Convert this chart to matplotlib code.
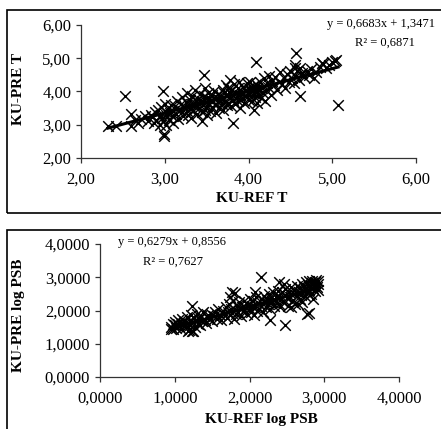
import matplotlib
matplotlib.use("Agg")
import matplotlib.pyplot as plt
from matplotlib.patches import Rectangle
from matplotlib.ticker import FuncFormatter

plt.rcParams['font.family'] = ['Liberation Serif', 'DejaVu Serif']

# --- top panel: KU-REF T vs KU-PRE T ---
ref_t = [2.72, 2.76, 2.80, 2.83, 2.85, 2.87, 2.88, 2.90, 2.92, 2.94,
         2.95, 2.96, 2.97, 2.98, 3.00, 3.00, 3.01, 3.02, 3.04, 3.05, 3.06, 3.08, 3.09, 3.10, 3.10,
         3.12, 3.13, 3.15, 3.16, 3.18, 3.19, 3.20, 3.21, 3.22, 3.24, 3.25, 3.26, 3.27, 3.28, 3.29, 3.30, 3.30, 3.31,
         3.32, 3.33, 3.34, 3.35, 3.36, 3.37, 3.38, 3.39, 3.40, 3.41, 3.42, 3.43, 3.44, 3.45, 3.46, 3.47, 3.48, 3.48,
         3.49, 3.50, 3.50, 3.51,
         3.52, 3.53, 3.54, 3.55, 3.56, 3.57, 3.58, 3.59, 3.60, 3.61, 3.62, 3.63, 3.64, 3.65, 3.66, 3.67, 3.68, 3.69,
         3.70, 3.70,
         3.71, 3.72, 3.73, 3.74, 3.75, 3.75, 3.76, 3.77, 3.78, 3.78, 3.79, 3.80, 3.81, 3.82, 3.83, 3.84, 3.85, 3.86,
         3.87, 3.88, 3.89, 3.90, 3.90, 3.91, 3.92,
         3.93, 3.94, 3.95, 3.96, 3.97, 3.98, 3.99, 4.00, 4.00, 4.01, 4.02, 4.03, 4.04, 4.05, 4.06, 4.07, 4.08, 4.09,
         4.10, 4.10, 4.11, 4.12,
         4.13, 4.14, 4.15, 4.16, 4.17, 4.18, 4.19, 4.20, 4.21, 4.22, 4.24, 4.25, 4.27, 4.28,
         4.30, 4.32, 4.34, 4.36, 4.38, 4.40, 4.42, 4.44, 4.46, 4.48, 4.50, 4.52, 4.54, 4.55,
         4.57, 4.58, 4.60, 4.62, 4.64, 4.66, 4.70, 4.72, 4.75, 4.78, 4.80, 4.85, 4.88, 4.92, 4.96, 5.00, 5.04,
         2.32, 2.42, 2.53, 2.60, 2.60, 2.98, 2.99, 2.99, 3.45, 3.47, 3.82, 4.07, 4.09, 4.57, 4.61, 5.07, 5.03,
         4.56, 4.89, 2.65, 2.68]
pre_t = [3.18, 3.25, 3.10, 3.30, 3.22, 3.05, 3.38, 3.15, 3.45, 2.98,
         3.30, 3.52, 3.20, 3.10, 3.40, 3.62, 3.00, 3.28, 3.48, 3.15, 3.35, 3.58, 3.25, 3.42, 3.05,
         3.55, 3.32, 3.70, 3.18, 3.45, 3.62, 3.38, 3.82, 3.25, 3.52, 3.68, 3.40, 3.95, 3.30, 3.58, 3.75, 3.48, 3.20,
         3.62, 3.85, 3.40, 3.55, 4.05, 3.70, 3.32, 3.60, 3.78, 3.50, 3.92, 3.65, 3.38, 3.72, 3.58, 3.85, 3.45, 4.10,
         3.68, 3.28, 3.80, 3.55,
         3.95, 3.62, 3.40, 3.75, 3.88, 3.52, 3.70, 4.00, 3.60, 3.35, 3.80, 3.68, 3.92, 3.50, 3.75, 3.85, 3.62, 4.05,
         3.45, 3.78,
         3.95, 3.70, 4.20, 3.58, 3.88, 4.10, 3.65, 3.98, 3.80, 4.35, 3.55, 4.05, 3.75, 3.90, 4.22, 3.62, 3.95, 3.82,
         4.12, 3.70, 4.30, 3.88, 3.50, 4.02, 3.78,
         4.15, 3.92, 3.65, 4.05, 3.85, 4.25, 3.98, 3.75, 4.12, 3.90, 4.30, 4.02, 3.70, 4.18, 3.95, 4.08, 3.82, 4.22,
         4.00, 3.65, 4.15, 3.88,
         4.05, 4.28, 3.80, 4.12, 3.95, 4.40, 4.18, 3.72, 4.05, 4.25, 4.48, 4.10, 3.90, 4.32,
         4.20, 4.45, 4.05, 4.30, 4.58, 4.22, 4.40, 4.12, 4.52, 4.30, 4.62, 4.40, 4.25, 4.72,
         4.48, 4.62, 4.35, 4.70, 4.55, 4.45, 4.62, 4.50, 4.68, 4.40, 4.60, 4.75, 4.85, 4.70, 4.80, 4.90, 4.95,
         2.95, 2.95, 3.87, 3.33, 2.95, 4.02, 2.65, 2.73, 3.12, 4.49, 3.05, 3.45, 4.89, 5.15, 3.87, 3.58, 4.92,
         4.79, 4.84, 3.15, 3.05]
fit_t = (0.6683, 1.3471)

# --- bottom panel: KU-REF log PSB vs KU-PRE log PSB ---
ref_psb = [0.95, 0.97, 0.98, 1.00, 1.01, 1.02, 1.04, 1.05, 1.06, 1.08, 1.09, 1.10, 1.12, 1.13, 1.15, 1.16, 1.18, 1.19,
           1.20, 1.21, 1.22, 1.23, 1.24, 1.26, 1.27, 1.28, 1.30, 1.31, 1.32, 1.34, 1.35, 1.37, 1.38, 1.40, 1.42,
           1.44, 1.46, 1.48,
           1.50, 1.52, 1.54, 1.56, 1.58, 1.60, 1.62, 1.64, 1.66, 1.68, 1.70, 1.71, 1.72, 1.74, 1.75, 1.77, 1.78, 1.79,
           1.80, 1.82, 1.83, 1.85, 1.86, 1.88, 1.89, 1.90, 1.92, 1.93, 1.95, 1.96, 1.98, 2.00, 2.01, 2.02, 2.04,
           2.05, 2.06, 2.08, 2.09, 2.10,
           2.12, 2.13, 2.15, 2.16, 2.18, 2.19, 2.20, 2.22, 2.23, 2.25, 2.26, 2.28, 2.29, 2.30, 2.32, 2.33, 2.35,
           2.36, 2.38, 2.39, 2.40, 2.41,
           2.42, 2.44, 2.45, 2.47, 2.48, 2.50, 2.51, 2.53, 2.54, 2.56, 2.57, 2.59, 2.60, 2.61, 2.63, 2.64, 2.66,
           2.67, 2.68, 2.69, 2.70, 2.70,
           2.72, 2.73, 2.74, 2.75, 2.76, 2.77, 2.78, 2.79, 2.80, 2.81, 2.82, 2.83, 2.84, 2.85, 2.86, 2.87, 2.88,
           2.89, 2.90, 2.91, 2.92, 2.92,
           2.15, 2.47, 2.28, 2.79, 2.77, 1.23, 1.74, 1.81, 1.76, 2.08, 2.40, 2.46, 2.85, 1.18, 1.25, 0.95, 2.55, 2.65]
pre_psb = [1.50, 1.58, 1.45, 1.55, 1.65, 1.48, 1.60, 1.70, 1.52, 1.62, 1.45, 1.75, 1.58, 1.68, 1.50, 1.80, 1.62, 1.40,
           1.72, 1.55, 1.85, 1.38, 1.65, 1.78, 1.50, 1.70, 1.90, 1.60, 1.75, 1.55, 1.82, 1.68, 1.95, 1.72, 1.62,
           1.85, 1.75, 1.90,
           1.68, 1.82, 1.95, 1.75, 2.05, 1.85, 1.72, 1.98, 1.88, 2.10, 1.78, 1.95, 2.20, 1.85, 2.05, 1.92, 2.30, 1.75,
           2.02, 1.88, 2.15, 1.95, 2.25, 2.05, 1.82, 2.12, 1.98, 2.30, 2.08, 1.90, 2.20, 2.05, 2.35, 1.95, 2.15,
           2.28, 1.85, 2.10, 2.40, 2.00,
           2.22, 2.05, 2.35, 2.15, 1.95, 2.28, 2.45, 2.10, 2.32, 2.20, 2.50, 2.05, 2.38, 2.25, 2.55, 2.15, 2.42,
           2.30, 2.60, 2.20, 2.45, 2.10,
           2.35, 2.55, 2.25, 2.48, 2.65, 2.38, 2.15, 2.55, 2.40, 2.70, 2.30, 2.50, 2.62, 2.20, 2.45, 2.75, 2.55,
           2.35, 2.68, 2.48, 2.80, 2.25,
           2.60, 2.72, 2.45, 2.85, 2.65, 2.55, 2.78, 2.88, 2.62, 2.70, 2.50, 2.82, 2.90, 2.68, 2.75, 2.58, 2.85,
           2.92, 2.70, 2.80, 2.88, 2.62,
           3.00, 1.55, 1.70, 1.91, 1.88, 2.15, 2.42, 2.52, 2.55, 2.57, 2.85, 2.80, 2.35, 1.38, 1.38, 1.45, 2.10, 2.20]
fit_psb = (0.6279, 0.8556)


def comma_fmt(decimals):
    return FuncFormatter(lambda v, p: ('{:.%df}' % decimals).format(v).replace('.', ','))


def draw_panel(ax, xs, ys, fit, lim, step, decimals):
    ax.scatter(xs, ys, marker='x', s=58, color='black', linewidths=1.05, zorder=2)
    a, b = fit
    x0, x1 = min(xs), max(xs)
    ax.plot([x0, x1], [a * x0 + b, a * x1 + b], color='black', lw=2.2, zorder=3)
    ax.set_xlim(lim)
    ax.set_ylim(lim)
    ticks = [lim[0] + i * step for i in range(int(round((lim[1] - lim[0]) / step)) + 1)]
    ax.set_xticks(ticks)
    ax.set_yticks(ticks)
    ax.xaxis.set_major_formatter(comma_fmt(decimals))
    ax.yaxis.set_major_formatter(comma_fmt(decimals))
    for side in ('top', 'right'):
        ax.spines[side].set_visible(False)
    for side in ('left', 'bottom'):
        ax.spines[side].set_color('#333333')
        ax.spines[side].set_linewidth(0.9)
    ax.tick_params(direction='out', length=3.6, width=0.9, color='#333333', labelsize=12)
    ax.tick_params(axis='x', pad=6.5)
    ax.tick_params(axis='y', pad=3.5)


fig = plt.figure(figsize=(4.41, 4.29), dpi=100)
W, H = 441.0, 429.0

# chart frames
fig.patches.append(Rectangle((7 / W, 1 - 213 / H), 1.0, 203 / H, transform=fig.transFigure,
                             fill=False, edgecolor='black', lw=1.2))
fig.patches.append(Rectangle((7 / W, -0.05), 1.0, 1 - 230 / H + 0.05, transform=fig.transFigure,
                             fill=False, edgecolor='black', lw=1.2))

ax1 = fig.add_axes([81 / W, 1 - 158 / H, 335 / W, 133 / H])
draw_panel(ax1, ref_t, pre_t, fit_t, (2.0, 6.0), 1.0, 2)

ax2 = fig.add_axes([100 / W, 1 - 377 / H, 299 / W, 133 / H])
draw_panel(ax2, ref_psb, pre_psb, fit_psb, (0.0, 4.0), 1.0, 4)

# axis titles
fig.text(252 / W, 1 - 198 / H, 'KU-REF T', ha='center', va='center', fontsize=11, fontweight='bold')
fig.text(19 / W, 1 - 89 / H, 'KU-PRE T', ha='center', va='center', rotation=90, fontsize=11, fontweight='bold')
fig.text(261 / W, 1 - 420 / H, 'KU-REF log PSB', ha='center', va='center', fontsize=11, fontweight='bold')
fig.text(19 / W, 1 - 315 / H, 'KU-PRE log PSB', ha='center', va='center', rotation=90, fontsize=11,
         fontweight='bold')

# trendline equations
fig.text(327 / W, 1 - 24 / H, 'y = 0,6683x + 1,3471', ha='left', va='center', fontsize=9)
fig.text(355 / W, 1 - 43 / H, 'R² = 0,6871', ha='left', va='center', fontsize=9)
fig.text(118 / W, 1 - 242 / H, 'y = 0,6279x + 0,8556', ha='left', va='center', fontsize=9)
fig.text(143 / W, 1 - 262 / H, 'R² = 0,7627', ha='left', va='center', fontsize=9)

fig.savefig('out.png', dpi=100)
